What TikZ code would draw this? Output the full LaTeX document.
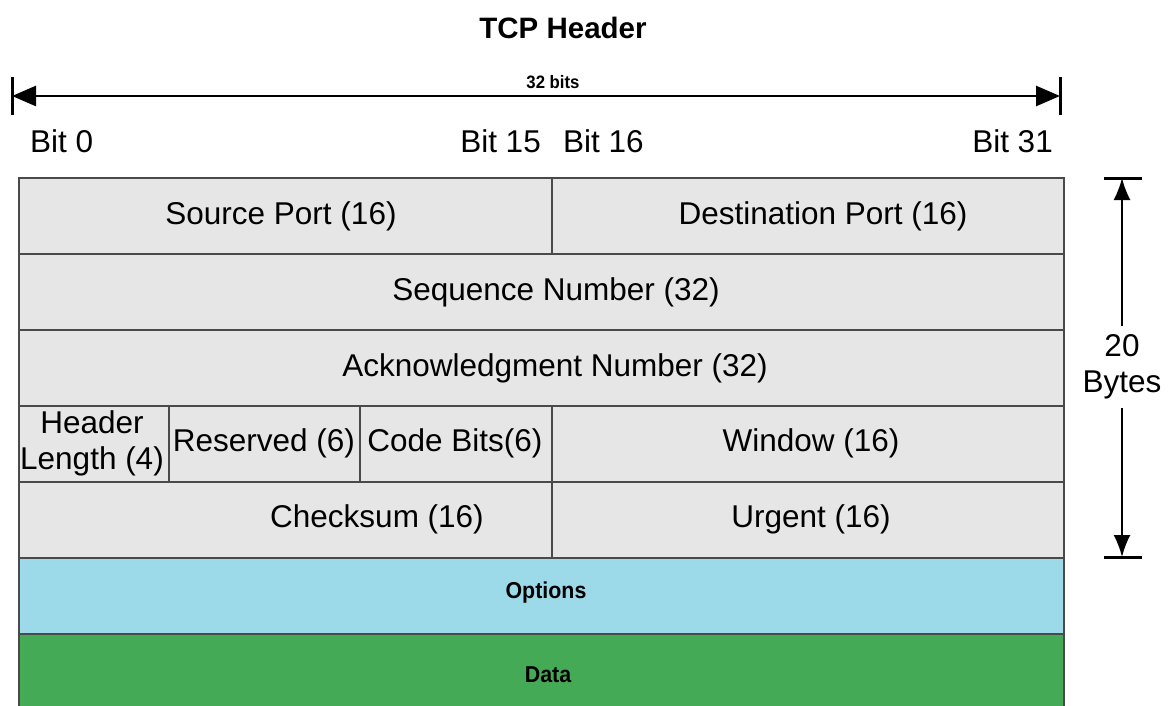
\documentclass[tikz,border=0pt]{standalone}
\usepackage{fontspec}
\setmainfont{Liberation Sans}
\newfontfamily\narrowsans[FakeStretch=0.93]{Liberation Sans}
\usetikzlibrary{arrows.meta}
\definecolor{cellgray}{HTML}{E6E6E6}
\definecolor{optblue}{HTML}{9CDAEA}
\definecolor{datagreen}{HTML}{44AA56}
\definecolor{edge}{HTML}{4A4A4A}
\begin{document}
\begin{tikzpicture}[x=1pt,y=-1pt,
  cell/.style={draw=edge,line width=1.5pt,inner sep=0pt,anchor=north west},
  txt/.style={font=\fontsize{31.5}{36}\selectfont,inner sep=0pt,align=center},
  btxt/.style={font=\narrowsans\fontsize{23}{26}\selectfont\bfseries,inner sep=0pt},
  dim/.style={line width=2.6pt,-{Triangle[length=24pt,width=20pt]}},
  vdim/.style={line width=2pt,-{Latex[length=22pt,width=17pt]}},
  bar/.style={line width=3pt}
]
\useasboundingbox (0,0) rectangle (1170,706);
\fill[white] (0,0) rectangle (1170,706);
% title
\node[font=\fontsize{29.5}{34}\selectfont\bfseries,inner sep=0pt] (title) at (563,28) {TCP Header};
% 32 bits arrow
\coordinate (la) at (12,96);
\coordinate (ra) at (1060,96);
\coordinate (lt) at (12,77); \coordinate (lb) at (12,115);
\coordinate (rt) at (1060,77); \coordinate (rb) at (1060,115);
\draw[bar] (lt) -- (lb);
\draw[bar] (rt) -- (rb);
\node[font=\narrowsans\fontsize{18}{20}\selectfont\bfseries,inner sep=0pt] (bits) at (553,82) {32 bits};
\draw[dim] (553,96) -- (la);
\draw[dim] (553,96) -- (ra);
% bit labels
\node[txt,anchor=west] (b0) at (30,141) {Bit 0};
\node[txt,anchor=east] (b15) at (541,141) {Bit 15};
\node[txt,anchor=west] (b16) at (563,141) {Bit 16};
\node[txt,anchor=east] (b31) at (1053,141) {Bit 31};
% cells
\node[cell,fill=cellgray,minimum width=533pt,minimum height=76pt] (src) at (18,177) {};
\node[cell,fill=cellgray,minimum width=512pt,minimum height=76pt] (dst) at (551,177) {};
\node[cell,fill=cellgray,minimum width=1045pt,minimum height=76pt] (seq) at (18,253) {};
\node[cell,fill=cellgray,minimum width=1045pt,minimum height=76pt] (ack) at (18,329) {};
\node[cell,fill=cellgray,minimum width=150pt,minimum height=76pt] (hl) at (18,405) {};
\node[cell,fill=cellgray,minimum width=191pt,minimum height=76pt] (res) at (168,405) {};
\node[cell,fill=cellgray,minimum width=192pt,minimum height=76pt] (code) at (359,405) {};
\node[cell,fill=cellgray,minimum width=512pt,minimum height=76pt] (win) at (551,405) {};
\node[cell,fill=cellgray,minimum width=533pt,minimum height=76pt] (chk) at (18,481) {};
\node[cell,fill=cellgray,minimum width=512pt,minimum height=76pt] (urg) at (551,481) {};
\node[cell,fill=optblue,minimum width=1045pt,minimum height=76pt] (opt) at (18,557) {};
\node[cell,fill=datagreen,minimum width=1045pt,minimum height=80pt] (data) at (18,633) {};
% texts
\node[txt] (tsrc) at (281,216) {Source Port (16)};
\node[txt] (tdst) at (823,216) {Destination Port (16)};
\node[txt] (tseq) at (556,292) {Sequence Number (32)};
\node[txt] (tack) at (555,368) {Acknowledgment Number (32)};
\node[txt] (thl) at (92,443) {Header\\Length (4)};
\node[txt] (tres) at (264,443) {Reserved (6)};
\node[txt] (tcode) at (455,443) {Code Bits(6)};
\node[txt] (twin) at (811,443) {Window (16)};
\node[txt] (tchk) at (377,519) {Checksum (16)};
\node[txt] (turg) at (811,519) {Urgent (16)};
\node[btxt] (topt) at (546,593) {Options};
\node[btxt] (tdata) at (548,675) {Data};
% 20 bytes arrow
\coordinate (vt) at (1122,178);
\coordinate (vb) at (1122,557);
\coordinate (vtl) at (1104,178); \coordinate (vtr) at (1142,178);
\coordinate (vbl) at (1104,557); \coordinate (vbr) at (1142,557);
\draw[bar] (vtl) -- (vtr);
\draw[bar] (vbl) -- (vbr);
\node[txt,inner ysep=9pt] (bytes) at (1122,367) {20\\Bytes};
\draw[vdim] (bytes.north) -- (vt);
\draw[vdim] (bytes.south) -- (vb);
\end{tikzpicture}
\end{document}
